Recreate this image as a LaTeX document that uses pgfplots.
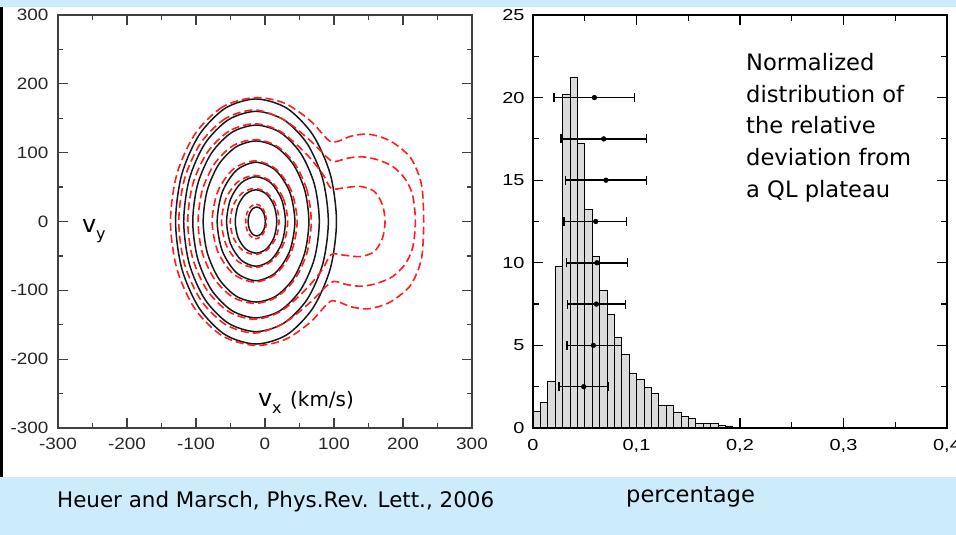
\documentclass[border=0pt]{standalone}
\usepackage{fontspec}
\setmainfont{DejaVu Sans}
\newfontfamily\tickA[FakeStretch=1.15]{Liberation Sans}
\newfontfamily\tickB[FakeStretch=1.25]{Liberation Sans}
\usepackage{pgfplots}
\pgfplotsset{compat=1.18}
\definecolor{slideblue}{RGB}{204,236,252}
\definecolor{cred}{RGB}{255,30,30}
\begin{document}
\begin{tikzpicture}[x=1bp,y=1bp]
\useasboundingbox (0,0) rectangle (956,535);
\fill[white] (0,0) rectangle (956,535);
\fill[slideblue] (0,528) rectangle (956,535);
\fill[slideblue] (0,0) rectangle (956,58);
\fill[black] (0,58) rectangle (3,528);

% ---------------- left panel ----------------
\begin{axis}[at={(58bp,107bp)}, anchor=south west, scale only axis,
  width=414bp, height=413bp,
  xmin=-300, xmax=300, ymin=-300, ymax=300,
  xtick={-300,-200,-100,0,100,200,300},
  xticklabels={-300,-200,-100,0,100,200,300},
  ytick={-300,-200,-100,0,100,200,300},
  yticklabels={-300,-200,-100,0,100,200,300},
  minor xtick={-250,-150,-50,50,150,250},
  minor ytick={-250,-150,-50,50,150,250},
  tick align=inside, major tick length=10bp, minor tick length=5bp,
  axis line style={line width=1.3bp, black!75},
  every tick/.style={line width=1.2bp, black!75},
  ticklabel style={font=\tickA\fontsize{16.5}{17}\selectfont, text=black!85},
  xticklabel style={yshift=-7bp},
  yticklabel style={xshift=-6bp},
]
% black solid contours
\addplot[black!90, line width=1.5bp, smooth cycle] coordinates {(103.6,0) (94.7,68.2) (69.4,125.8) (31.7,164.5) (-13,178) (-57.7,164.5) (-95.4,125.8) (-120.7,68.2) (-129.6,0) (-120.7,-68.2) (-95.4,-125.8) (-57.7,-164.5) (-13,-178) (31.7,-164.5) (69.4,-125.8) (94.7,-68.2)};
\addplot[black!90, line width=1.5bp, smooth cycle] coordinates {(91.8,0) (83.8,61.3) (61.1,113.1) (27.1,147.8) (-13,160) (-53.1,147.8) (-87.1,113.1) (-109.8,61.3) (-117.8,0) (-109.8,-61.3) (-87.1,-113.1) (-53.1,-147.8) (-13,-160) (27.1,-147.8) (61.1,-113.1) (83.8,-61.3)};
\addplot[black!90, line width=1.5bp, smooth cycle] coordinates {(78.7,0) (71.7,53.6) (51.8,99) (22.1,129.4) (-13,140) (-48.1,129.4) (-77.8,99) (-97.7,53.6) (-104.7,0) (-97.7,-53.6) (-77.8,-99) (-48.1,-129.4) (-13,-140) (22.1,-129.4) (51.8,-99) (71.7,-53.6)};
\addplot[black!90, line width=1.5bp, smooth cycle] coordinates {(63.6,0) (57.8,44.8) (41.2,82.7) (16.3,108.1) (-13,117) (-42.3,108.1) (-67.2,82.7) (-83.8,44.8) (-89.6,0) (-83.8,-44.8) (-67.2,-82.7) (-42.3,-108.1) (-13,-117) (16.3,-108.1) (41.2,-82.7) (57.8,-44.8)};
\addplot[black!90, line width=1.5bp, smooth cycle] coordinates {(43.3,0) (35.8,43) (15.2,74.5) (-13,86) (-41.2,74.5) (-61.8,43) (-69.3,0) (-61.8,-43) (-41.2,-74.5) (-13,-86) (15.2,-74.5) (35.8,-43)};
\addplot[black!90, line width=1.5bp, smooth cycle] coordinates {(29.6,0) (23.9,32.5) (8.3,56.3) (-13,65) (-34.3,56.3) (-49.9,32.5) (-55.6,0) (-49.9,-32.5) (-34.3,-56.3) (-13,-65) (8.3,-56.3) (23.9,-32.5)};
\addplot[black!90, line width=1.5bp, smooth cycle] coordinates {(17.1,0) (13.1,23) (2.1,39.8) (-13,46) (-28.1,39.8) (-39.1,23) (-43.1,0) (-39.1,-23) (-28.1,-39.8) (-13,-46) (2.1,-39.8) (13.1,-23)};
\addplot[black!90, line width=1.5bp, smooth cycle] coordinates {(0.5,0) (-1.2,10.5) (-5.7,18.2) (-12,21) (-18.3,18.2) (-22.8,10.5) (-24.5,0) (-22.8,-10.5) (-18.3,-18.2) (-12,-21) (-5.7,-18.2) (-1.2,-10.5)};
% red dashed contours (core + beam)
\addplot[cred, line width=1.6bp, dash pattern=on 8bp off 4bp, smooth cycle] coordinates {(-15,180) (-61.7,166.3) (-101.3,127.3) (-127.7,68.9) (-137,0) (-127.7,-68.9) (-101.3,-127.3) (-61.7,-166.3) (-15,-180) (28,-172) (65,-147) (92,-118) (104,-116) (125,-124) (148,-127) (170,-122) (188,-113) (210,-94) (222,-70) (228,-46) (230,0) (228,46) (222,70) (210,94) (188,113) (170,122) (148,127) (125,124) (104,116) (92,118) (65,147) (28,172)};
\addplot[cred, line width=1.6bp, dash pattern=on 8bp off 4bp, smooth cycle] coordinates {(-15,162) (-57.1,149.7) (-92.8,114.5) (-116.6,62) (-125,0) (-116.6,-62) (-92.8,-114.5) (-57.1,-149.7) (-15,-162) (27,-148) (65,-118) (89,-94) (100,-87) (120,-92) (140,-94) (162,-90) (185,-80) (203,-62) (214,-38) (218,0) (214,38) (203,62) (185,80) (162,90) (140,94) (120,92) (100,87) (89,94) (65,118) (27,148)};
\addplot[cred, line width=1.6bp, dash pattern=on 8bp off 4bp, smooth cycle] coordinates {(-15,142) (-52.2,131.2) (-83.6,100.4) (-104.6,54.3) (-112,0) (-104.6,-54.3) (-83.6,-100.4) (-52.2,-131.2) (-15,-142) (22,-131) (58,-100) (83,-70) (96,-48) (115,-49) (138,-51) (158,-44) (170,-25) (174,0) (170,25) (158,44) (138,51) (115,49) (96,48) (83,70) (58,100) (22,131)};
\addplot[cred, line width=1.6bp, dash pattern=on 8bp off 4bp, smooth cycle] coordinates {(67,0) (60.8,45.6) (43,84.1) (16.4,110) (-15,119) (-46.4,110) (-73,84.1) (-90.8,45.6) (-97,0) (-90.8,-45.6) (-73,-84.1) (-46.4,-110) (-15,-119) (16.4,-110) (43,-84.1) (60.8,-45.6)};
\addplot[cred, line width=1.6bp, dash pattern=on 8bp off 4bp, smooth cycle] coordinates {(46.6,0) (38.3,44) (15.8,76.2) (-15,88) (-45.8,76.2) (-68.3,44) (-76.6,0) (-68.3,-44) (-45.8,-76.2) (-15,-88) (15.8,-76.2) (38.3,-44)};
\addplot[cred, line width=1.6bp, dash pattern=on 7bp off 4bp, smooth cycle] coordinates {(32.9,0) (26.5,33.5) (9,58) (-15,67) (-39,58) (-56.5,33.5) (-62.9,0) (-56.5,-33.5) (-39,-58) (-15,-67) (9,-58) (26.5,-33.5)};
\addplot[cred, line width=1.6bp, dash pattern=on 6bp off 4bp, smooth cycle] coordinates {(20.4,0) (15.7,24) (2.7,41.6) (-15,48) (-32.7,41.6) (-45.7,24) (-50.4,0) (-45.7,-24) (-32.7,-41.6) (-15,-48) (2.7,-41.6) (15.7,-24)};
\addplot[cred, line width=1.6bp, dash pattern=on 5bp off 3bp, smooth cycle] coordinates {(2,0) (0,12.5) (-5.5,21.7) (-13,25) (-20.5,21.7) (-26,12.5) (-28,0) (-26,-12.5) (-20.5,-21.7) (-13,-25) (-5.5,-21.7) (0,-12.5)};
\end{axis}

% ---------------- right panel ----------------
\begin{axis}[at={(533bp,107bp)}, anchor=south west, scale only axis,
  width=414bp, height=413bp,
  xmin=0, xmax=0.4, ymin=0, ymax=25,
  xtick={0,0.1,0.2,0.3,0.4},
  xticklabels={0,{0,1},{0,2},{0,3},{0,4}},
  ytick={0,5,10,15,20,25},
  yticklabels={0,5,10,15,20,25},
  minor xtick={0.05,0.15,0.25,0.35},
  minor ytick={2.5,7.5,12.5,17.5,22.5},
  tick align=inside, major tick length=10bp, minor tick length=6bp,
  axis line style={line width=1.3bp, black},
  every tick/.style={line width=1.2bp, black},
  ticklabel style={font=\tickB\fontsize{16}{17}\selectfont, text=black},
  xticklabel style={yshift=-8bp},
  yticklabel style={xshift=-5bp},
  axis on top,
]
\addplot[ybar interval, fill=black!14, draw=black, line width=0.9bp] coordinates {
(0,1.03) (0.00715,1.53) (0.0143,2.82) (0.02145,9.78) (0.0286,20.18) (0.03575,21.2)
(0.0429,17.2) (0.05005,13.2) (0.0572,10.4) (0.06435,8.33) (0.0715,6.85) (0.07865,5.46)
(0.0858,4.44) (0.09295,3.33) (0.1001,2.92) (0.10725,2.48) (0.1144,2.08) (0.12155,1.37)
(0.1287,1.37) (0.13585,0.97) (0.143,0.71) (0.15015,0.60) (0.1573,0.30) (0.16445,0.30)
(0.1716,0.30) (0.17875,0.18) (0.1859,0.08) (0.19305,0.06) (0.2002,0.04) (0.20735,0)
(0.2145,0.06) (0.22165,0.06)};
\addplot[only marks, mark=*, mark size=2.4bp, black,
  error bars/.cd, x dir=both, x explicit,
  error bar style={line width=1.6bp, black},
  error mark options={rotate=90, mark size=4.5bp, line width=1.5bp, black}]
coordinates {
(0.0593,20) += (0.0387,0) -= (0.039,0)
(0.0683,17.5) += (0.0412,0) -= (0.0415,0)
(0.0705,15) += (0.039,0) -= (0.0389,0)
(0.0606,12.5) += (0.0299,0) -= (0.0309,0)
(0.0618,10) += (0.0297,0) -= (0.0296,0)
(0.0612,7.5) += (0.0284,0) -= (0.028,0)
(0.0583,5) += (0.0271,0) -= (0.0257,0)
(0.049,2.5) += (0.0235,0) -= (0.0238,0)
};
\end{axis}

% ---------------- texts ----------------
\node[anchor=base west, inner sep=0, font=\fontsize{21.5}{24}\selectfont] at (57,27) {Heuer and Marsch, Phys.Rev. Lett., 2006};
\node[anchor=base west, inner sep=0, font=\fontsize{22.7}{25}\selectfont] at (626,32) {percentage};
\begin{scope}[every node/.style={anchor=base west, inner sep=0, font=\fontsize{22.7}{25}\selectfont}]
\node at (746,464) {Normalized};
\node at (746,432.5) {distribution of};
\node at (746,401.5) {the relative};
\node at (746,369) {deviation from};
\node at (746,337) {a QL plateau};
\end{scope}
\node[anchor=base west, inner sep=0, font=\fontsize{24}{24}\selectfont] at (82,302) {v};
\node[anchor=base west, inner sep=0, font=\fontsize{16}{16}\selectfont] at (96,295) {y};
\node[anchor=base west, inner sep=0, font=\fontsize{24}{24}\selectfont] at (258,128) {v};
\node[anchor=base west, inner sep=0, font=\fontsize{16}{16}\selectfont] at (272,121) {x};
\node[anchor=base west, inner sep=0, font=\fontsize{20}{20}\selectfont] at (290,128) {(km/s)};
\end{tikzpicture}
\end{document}
